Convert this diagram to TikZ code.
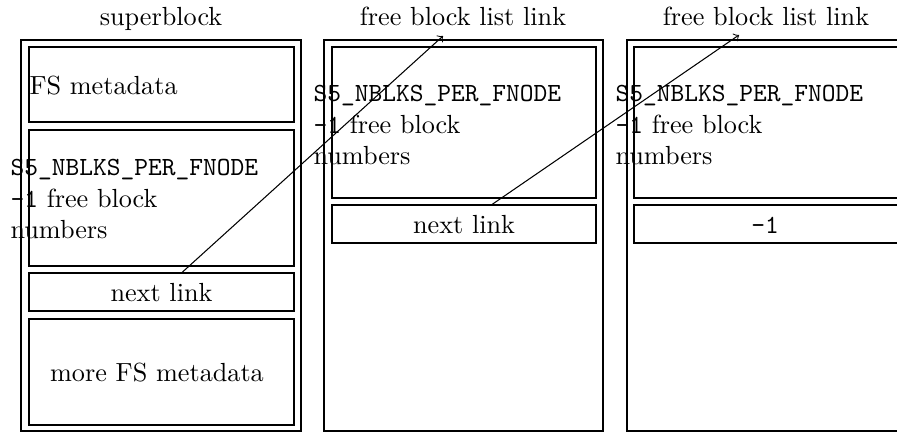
\documentclass[tikz,border=0pt]{standalone}
\usetikzlibrary{fit}
\begin{document}
\begin{tikzpicture}[x=0.3817pt,y=-0.3817pt,
  box/.style={draw,inner sep=0pt,fit={#1}},
  lbl/.style={inner sep=0pt,anchor=base},
  multi/.style={inner sep=0pt,anchor=north west,align=left}]
\useasboundingbox (0,0) rectangle (897,433);
\clip (0,0) rectangle (897,433);
% titles
\node[lbl] (t1) at (161,25) {superblock};
\node[lbl] (t2) at (463,25) {free block list link};
\node[lbl] (t3) at (766,25) {free block list link};
% block 1
\node[box={(21,40)(301,431)}] (b1) {};
\node[box={(29,47)(294,122)}] (fs) {};
\node[box={(29,130)(294,266)}] (fl1) {};
\node[box={(29,273)(294,311)}] (nl1) {};
\node[box={(29,319)(294,425)}] (more) {};
\node[inner sep=0pt,anchor=base west] (fst) at (29,94) {FS metadata};
\node[multi] (flt1) at (10,159) {\texttt{S5\_NBLKS\_PER\_FNODE}\\\texttt{-1} free block\\numbers};
\node[lbl] (nlt1) at (161.5,301.5) {next link};
\node[lbl] (moret) at (157,381.5) {more FS metadata};
% block 2
\node[box={(324,40)(603,431)}] (b2) {};
\node[box={(332,47)(596,198)}] (fl2) {};
\node[box={(332,205)(596,243)}] (nl2) {};
\node[multi] (flt2) at (313,85) {\texttt{S5\_NBLKS\_PER\_FNODE}\\\texttt{-1} free block\\numbers};
\node[lbl] (nlt2) at (464,233) {next link};
% block 3
\node[box={(627,40)(910,431)}] (b3) {};
\node[box={(634,47)(905,198)}] (fl3) {};
\node[box={(634,205)(905,243)}] (nl3) {};
\node[multi] (flt3) at (615,85) {\texttt{S5\_NBLKS\_PER\_FNODE}\\\texttt{-1} free block\\numbers};
\node[lbl] (nlt3) at (765,233) {\texttt{-1}};
% links
\coordinate (a1) at (182,0);
\coordinate (a2) at (492,0);
\coordinate (e1) at (443,36);
\coordinate (e2) at (739,35);
\draw[->] (nl1.north -| a1) -- (e1);
\draw[->] (nl2.north -| a2) -- (e2);
\end{tikzpicture}
\end{document}
